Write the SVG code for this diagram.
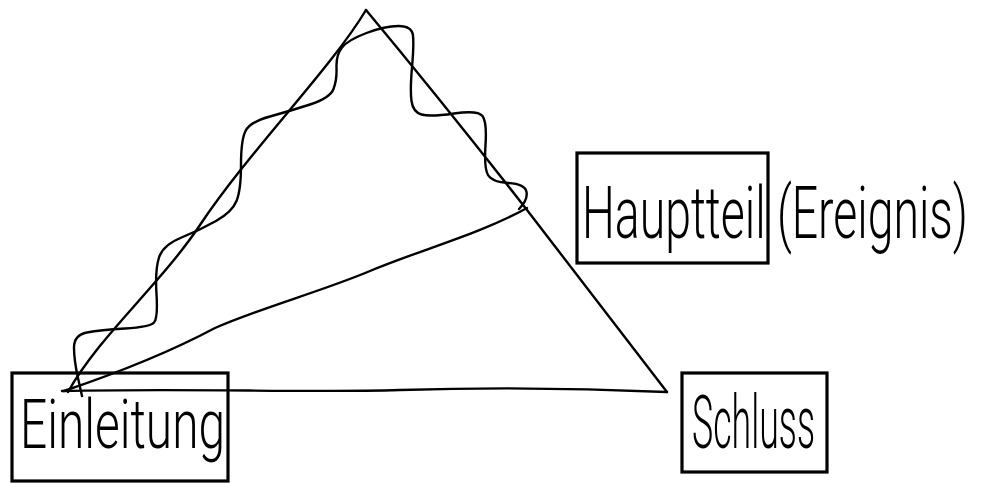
<svg xmlns="http://www.w3.org/2000/svg" width="986" height="483" viewBox="0 0 986 483">
<style>
.box{fill:none;stroke:#000;stroke-width:3.2}
.ln{fill:none;stroke:#000;stroke-width:2.4;stroke-linecap:round;stroke-linejoin:round}
.lbl{font-family:Roboto,"Liberation Sans",sans-serif;font-weight:300;fill:#000}
</style>
<rect width="986" height="483" fill="#fff"/>
<g id="connectors">
<path class="ln" d="M366,10 C330,70 250,150 200,225 C160,285 100,335 68,392"/>
<path class="ln" d="M366,10 Q445,105 527,210 L667,392"/>
<path class="ln" d="M62,391 C200,388 300,393 400,390 S600,389 667,392"/>
<path class="ln" d="M64,391 C120,372 170,352 215,328 C260,308 320,292 370,271 C420,250 480,234 527,208"/>
<path class="ln" d="M82,396 L78,378 Q74,360 74,347.5 Q74,335 87,332.5 Q100,330 125,328.5 Q150,327 154,322.5 Q158,318 156.5,294 Q155,270 159,257.5 Q163,245 181.5,237.5 Q200,230 216,221 Q232,212 236.5,201 Q241,190 241,165 Q241,140 245.5,131 Q250,122 270,116.5 Q290,111 310,104.5 Q330,98 333.5,89 Q337,80 336.5,67.5 Q336,55 342,47.5 Q348,40 366.5,33 Q385,26 398.5,26 Q412,26 413,35.5 Q414,45 412,67.5 Q410,90 411.5,101 Q413,112 421.5,114.5 Q430,117 454,113.5 Q478,110 482.5,116 Q487,122 485.5,145 Q484,168 488,175 Q492,182 508.5,183 Q525,184 526.5,192 Q528,200 519,209"/>
</g>
<g id="einleitung">
<rect class="box" x="12" y="373" width="216" height="108"/>
<text class="lbl" x="20" y="448" font-size="68" textLength="205" lengthAdjust="spacingAndGlyphs">Einleitung</text>
</g>
<g id="hauptteil">
<rect class="box" x="577" y="153" width="191" height="110"/>
<text class="lbl" x="582" y="238" font-size="72" textLength="386" lengthAdjust="spacingAndGlyphs">Hauptteil (Ereignis)</text>
</g>
<g id="schluss">
<rect class="box" x="682" y="373" width="145" height="99"/>
<text class="lbl" x="692" y="448" font-size="74" textLength="123" lengthAdjust="spacingAndGlyphs">Schluss</text>
</g>
</svg>
